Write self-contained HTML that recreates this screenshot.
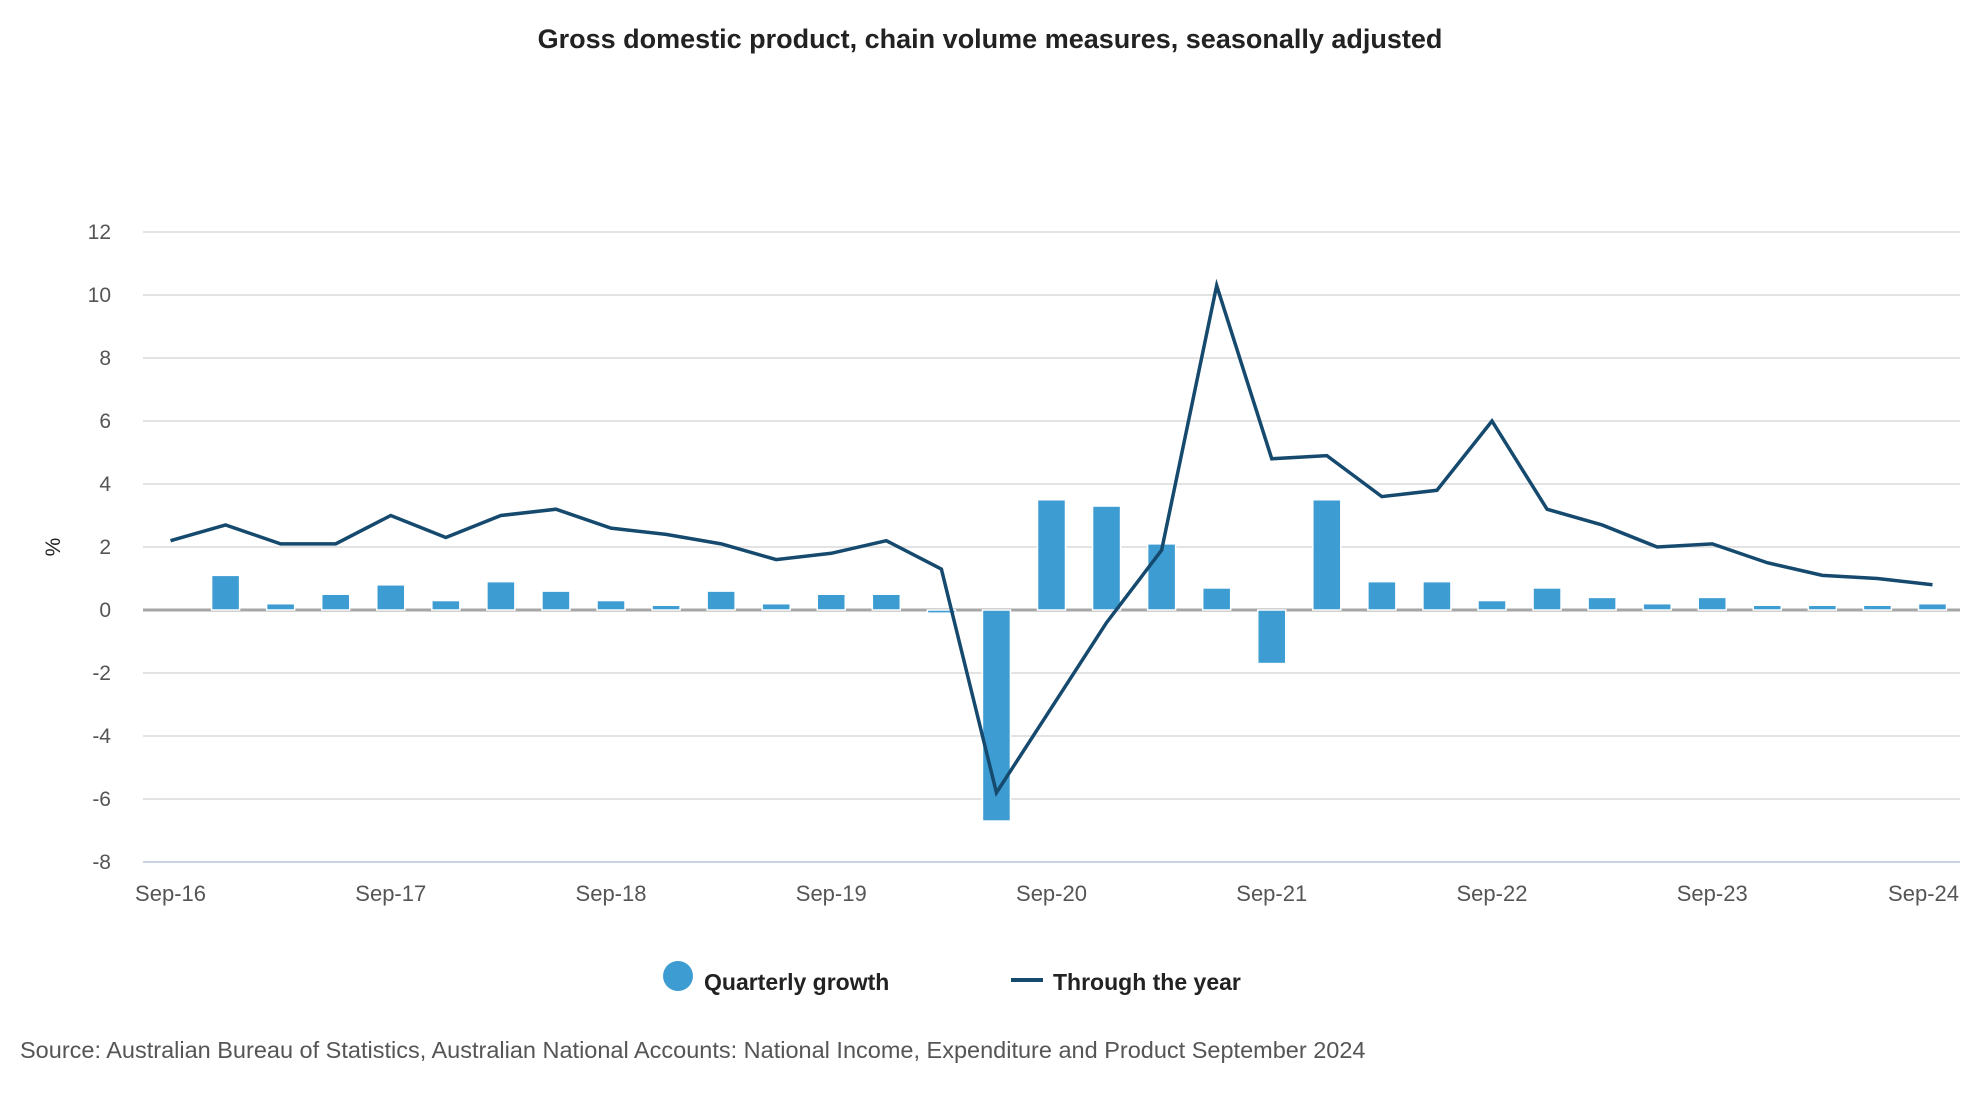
<!DOCTYPE html>
<html><head><meta charset="utf-8"><style>
body{margin:0;background:#fff;font-family:"Liberation Sans",sans-serif;}
svg{display:block}
</style></head><body>
<svg width="1980" height="1100" viewBox="0 0 1980 1100" id="chart">
<text x="990" y="48" text-anchor="middle" font-size="27" font-weight="bold" fill="#222">Gross domestic product, chain volume measures, seasonally adjusted</text>
<text transform="translate(60,547) rotate(-90)" text-anchor="middle" font-size="21" fill="#222">%</text>
<g id="grid"></g><g id="bars"></g><g id="line"></g><g id="xlabels"></g>
<g>
<circle cx="678" cy="976" r="15" fill="#3d9dd3"/>
<text x="704" y="990" font-size="23" font-weight="bold" fill="#222">Quarterly growth</text>
<line x1="1011" y1="980" x2="1043" y2="980" stroke="#154a6e" stroke-width="4"/>
<text x="1053" y="990" font-size="23" font-weight="bold" fill="#222">Through the year</text>
</g>
<text x="20" y="1058" font-size="23.5" fill="#555">Source: Australian Bureau of Statistics, Australian National Accounts: National Income, Expenditure and Product September 2024</text>
</svg>
<script>
const categories=["Sep-16","Dec-16","Mar-17","Jun-17","Sep-17","Dec-17","Mar-18","Jun-18","Sep-18","Dec-18","Mar-19","Jun-19","Sep-19","Dec-19","Mar-20","Jun-20","Sep-20","Dec-20","Mar-21","Jun-21","Sep-21","Dec-21","Mar-22","Jun-22","Sep-22","Dec-22","Mar-23","Jun-23","Sep-23","Dec-23","Mar-24","Jun-24","Sep-24"];
const quarterly=[0,1.1,0.2,0.5,0.8,0.3,0.9,0.6,0.3,0.15,0.6,0.2,0.5,0.5,-0.1,-6.7,3.5,3.3,2.1,0.7,-1.7,3.5,0.9,0.9,0.3,0.7,0.4,0.2,0.4,0.15,0.15,0.15,0.2];
const throughYear=[2.2,2.7,2.1,2.1,3.0,2.3,3.0,3.2,2.6,2.4,2.1,1.6,1.8,2.2,1.3,-5.8,-3.1,-0.4,1.9,10.3,4.8,4.9,3.6,3.8,6.0,3.2,2.7,2.0,2.1,1.5,1.1,1.0,0.8];
const yTicks=[12,10,8,6,4,2,0,-2,-4,-6,-8];
const xTickLabels=["Sep-16","Sep-17","Sep-18","Sep-19","Sep-20","Sep-21","Sep-22","Sep-23","Sep-24"];
const NS="http://www.w3.org/2000/svg";
const L=143,R=1960,T=232,B=862;
const bw=(R-L)/categories.length;
const x=i=>L+bw*(i+0.5);
const y=v=>T+(12-v)*(B-T)/20;
function mk(tag,attrs,parent){const e=document.createElementNS(NS,tag);for(const k in attrs)e.setAttribute(k,attrs[k]);parent.appendChild(e);return e;}
const grid=document.getElementById('grid');
yTicks.forEach(v=>{
  const ln=mk('line',{x1:L,x2:R,y1:y(v),y2:y(v),stroke:v===-8?'#c9d3e3':'#e3e3e3','stroke-width':2},grid);
  
  
  const t=mk('text',{x:111,y:y(v)+7,'text-anchor':'end','font-size':21,fill:'#555'},grid);
  t.textContent=v;
  
  
});
const zl=mk('line',{x1:L,x2:R,y1:y(0),y2:y(0),stroke:'#a6a6a6','stroke-width':3},grid);


const bars=document.getElementById('bars');
quarterly.forEach((v,i)=>{
  const y0=Math.min(y(v),y(0)),h=Math.abs(y(v)-y(0));
  const r=mk('rect',{x:x(i)-14,y:y0,width:28,height:h,fill:'#3d9dd3',stroke:'#fff','stroke-width':1.5},bars);
  
  
});
const pts=throughYear.map((v,i)=>x(i)+','+y(v)).join(' ');
const pl=mk('polyline',{points:pts,fill:'none',stroke:'#154a6e','stroke-width':3.5,'stroke-linejoin':'miter'},document.getElementById('line'));


const xl=document.getElementById('xlabels');
xTickLabels.forEach(lab=>{
  const i=categories.indexOf(lab);
  const last=i===categories.length-1;
  const t=mk('text',{x:last?1959:x(i),y:901,'text-anchor':last?'end':'middle','font-size':22,fill:'#555'},xl);
  t.textContent=lab;
  
  
});
</script>
</body></html>
